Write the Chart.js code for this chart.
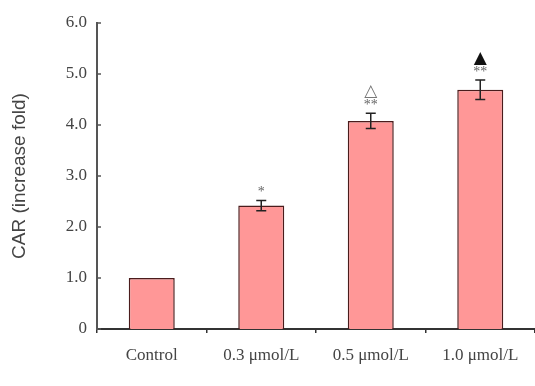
<!DOCTYPE html>
<html>
<head>
<meta charset="utf-8">
<script src="https://cdn.jsdelivr.net/npm/chart.js@4"></script>
<style>
  html, body { margin: 0; padding: 0; background: #fff; }
  #wrap { width: 535px; height: 386px; }
</style>
</head>
<body>
<div id="wrap"><canvas id="chart" width="535" height="386"></canvas></div>
<script>
const categories = ['Control', '0.3 μmol/L', '0.5 μmol/L', '1.0 μmol/L'];
const foldValues = [1.0, 2.42, 4.08, 4.69];
const foldErrors = [0, 0.1, 0.15, 0.19];
const starMarks = ['', '*', '**', '**'];
const triMarks = ['', '', '△', '▲'];
const yTicks = [0, 1, 2, 3, 4, 5, 6];

const serif = '"Liberation Serif", "DejaVu Serif", serif';
const sans = '"Liberation Sans", Arial, sans-serif';

// error bars, significance marks, inner y ticks, y title
const extras = {
  id: 'extras',
  afterDatasetsDraw(chart) {
    const { ctx, scales: { x, y }, chartArea } = chart;
    ctx.save();
    // y ticks pointing inward
    ctx.strokeStyle = '#555';
    ctx.lineWidth = 1.5;
    yTicks.forEach(v => {
      const py = y.getPixelForValue(v);
      ctx.beginPath();
      ctx.moveTo(chartArea.left, py);
      ctx.lineTo(chartArea.left + 4, py);
      ctx.stroke();
    });

    foldValues.forEach((v, i) => {
      const px = x.getPixelForValue(i);
      const err = foldErrors[i];
      let top = y.getPixelForValue(v);
      if (err > 0) {
        const hi = y.getPixelForValue(v + err);
        const lo = y.getPixelForValue(v - err);
        ctx.strokeStyle = '#222';
        ctx.lineWidth = 1.5;
        ctx.beginPath();
        ctx.moveTo(px, hi); ctx.lineTo(px, lo);
        ctx.moveTo(px - 5, hi); ctx.lineTo(px + 5, hi);
        ctx.moveTo(px - 5, lo); ctx.lineTo(px + 5, lo);
        ctx.stroke();
        top = hi;
      }
      ctx.textAlign = 'center';
      ctx.textBaseline = 'middle';
      if (starMarks[i]) {
        ctx.fillStyle = '#666';
        ctx.font = '14px ' + serif;
        ctx.fillText(starMarks[i], px, top - 8);
      }
      if (triMarks[i]) {
        ctx.fillStyle = triMarks[i] === '▲' ? '#111' : '#777';
        ctx.font = '17px "DejaVu Sans", sans-serif';
        ctx.fillText(triMarks[i], px, top - 22);
      }
    });

    // y axis title
    ctx.translate(20, (chartArea.top + chartArea.bottom) / 2);
    ctx.rotate(-Math.PI / 2);
    ctx.fillStyle = '#444';
    ctx.font = '19px ' + sans;
    ctx.textAlign = 'center';
    ctx.textBaseline = 'middle';
    ctx.fillText('CAR (increase fold)', 0, 0);
    ctx.restore();
  }
};

new Chart(document.getElementById('chart'), {
  type: 'bar',
  data: {
    labels: categories,
    datasets: [{
      data: foldValues,
      backgroundColor: '#ff9797',
      borderColor: '#4a1c1c',
      borderWidth: 1.5,
      borderSkipped: 'bottom',
      categoryPercentage: 1,
      barPercentage: 0.42
    }]
  },
  options: {
    responsive: false,
    animation: false,
    layout: { padding: { top: 23, right: 0, left: 0, bottom: 0 } },
    plugins: { legend: { display: false }, tooltip: { enabled: false } },
    scales: {
      x: {
        afterFit: s => { s.height = 57; },
        border: { display: true, color: '#333', width: 2 },
        grid: { display: true, offset: true, drawOnChartArea: false, tickLength: 4, color: '#333', lineWidth: 1.5 },
        ticks: { color: '#444', font: { family: serif, size: 17 }, padding: 12, maxRotation: 0 }
      },
      y: {
        min: 0, max: 6,
        afterFit: s => { s.width = 97; },
        afterBuildTicks: s => { s.ticks = yTicks.map(v => ({ value: v })); },
        border: { display: true, color: '#555', width: 2 },
        grid: { display: false, tickLength: 0 },
        ticks: {
          color: '#444', font: { family: serif, size: 17 }, padding: 10,
          callback: v => v === 0 ? '0' : v.toFixed(1)
        }
      }
    }
  },
  plugins: [extras]
});
</script>
</body>
</html>
